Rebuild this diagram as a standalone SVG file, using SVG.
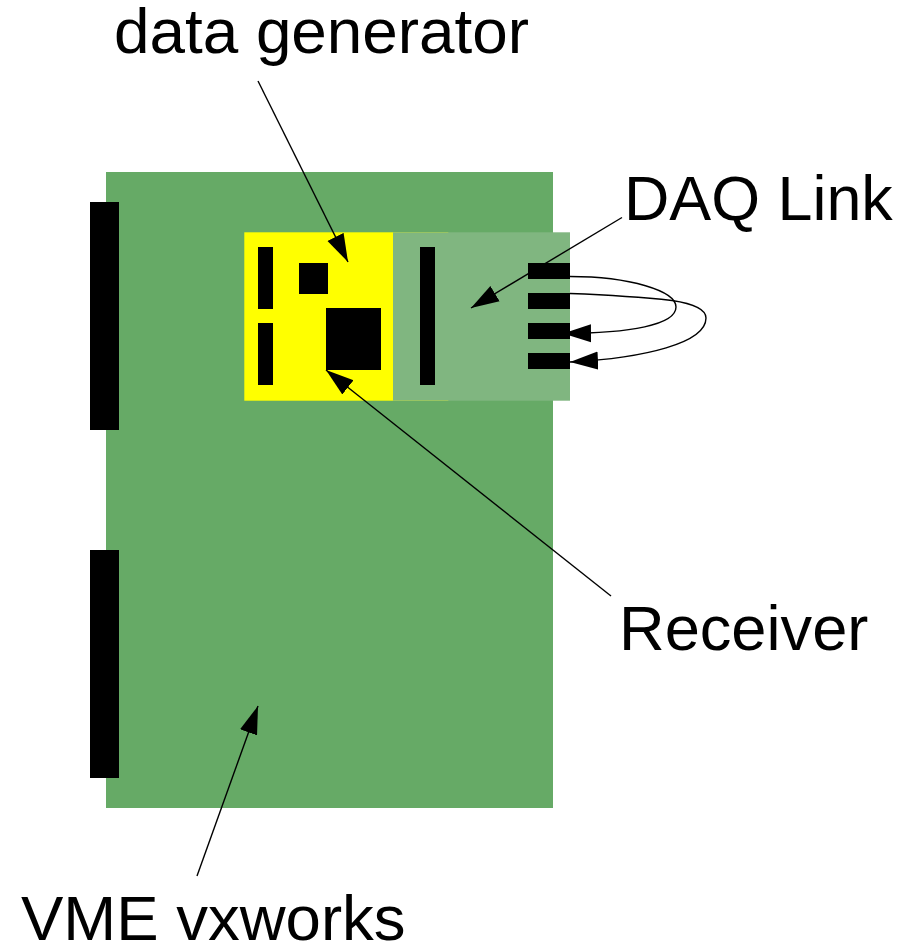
<svg xmlns="http://www.w3.org/2000/svg" width="916" height="945" viewBox="0 0 916 945">
<defs><marker id="a" markerUnits="userSpaceOnUse" markerWidth="30" markerHeight="20" refX="28" refY="9" orient="auto" viewBox="0 0 30 18"><path d="M0 0L28 9L0 18Z" fill="#000"/></marker></defs>
<style>.b{fill:#000}.c{fill:none;stroke:#000;stroke-width:1.4}.t{font-family:"Liberation Sans",Arial,sans-serif;fill:#000}</style>
<rect width="916" height="945" fill="#fff"/>
<g id="board"><rect x="106" y="172" width="447" height="636" fill="#66aa66"/><rect class="b" x="90" y="202" width="29" height="228"/><rect class="b" x="90" y="550" width="29" height="228"/></g>
<g id="generator"><rect x="244.300" y="232.300" width="204" height="168.400" fill="#ffff00"/><rect class="b" x="258" y="247" width="15" height="62"/><rect class="b" x="258" y="323" width="15" height="62"/><rect class="b" x="299" y="263" width="29" height="31"/><rect class="b" x="326" y="308" width="55" height="62"/></g>
<g id="daq"><rect x="393" y="232.300" width="177" height="168.400" fill="#80b680"/><rect class="b" x="420" y="247" width="15" height="138"/><rect class="b" x="528" y="263" width="42" height="16"/><rect class="b" x="528" y="293" width="42" height="16"/><rect class="b" x="528" y="323" width="42" height="16"/><rect class="b" x="528" y="353" width="42" height="16"/></g>
<g id="connectors">
<path class="c" marker-end="url(#a)" d="M258 81L348 262"/>
<path class="c" marker-end="url(#a)" d="M622 217.500L471 308"/>
<path class="c" marker-end="url(#a)" d="M611 596L326 370"/>
<path class="c" marker-end="url(#a)" d="M197 876L258 706"/>
<path class="c" marker-end="url(#a)" d="M570 276.500C630 276.500 676 291 676 307C676 325 630 333 563 333.500"/>
<path class="c" marker-end="url(#a)" d="M570 293.500C610 295 650 298 672 300.500C695 304 706 310 706 318C706 343 645 358 570 362"/>
</g>
<text class="t" font-size="63.800" x="114" y="53">data generator</text>
<text class="t" font-size="62.800" x="624" y="220">DAQ Link</text>
<text class="t" font-size="63.200" x="619" y="650">Receiver</text>
<text class="t" font-size="63.500" x="21" y="940">VME vxworks</text>
</svg>
